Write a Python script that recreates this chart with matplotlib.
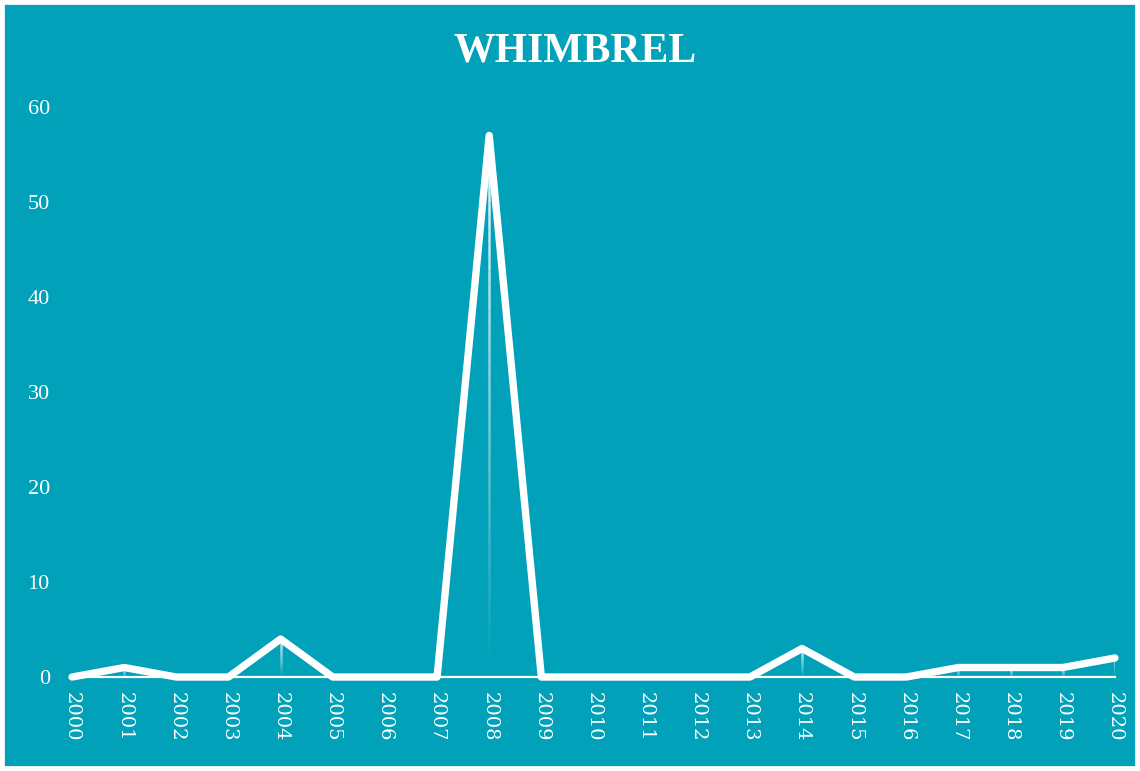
import numpy as np
import matplotlib.pyplot as plt
from matplotlib.collections import LineCollection
from matplotlib.patches import Rectangle

years = list(range(2000, 2021))
counts = [0, 1, 0, 0, 4, 0, 0, 0, 57, 0, 0, 0, 0, 0, 3, 0, 0, 1, 1, 1, 2]
yticks = [0, 10, 20, 30, 40, 50, 60]
title = "WHIMBREL"

bg = "#00a1b9"
serif = ["Liberation Serif", "DejaVu Serif"]

fig = plt.figure(figsize=(11.4, 7.71), dpi=100)
fig.patch.set_facecolor(bg)
ax = fig.add_axes([0.0632, 0.1219, 0.9148, 0.7394])
ax.set_facecolor(bg)

# baseline
ax.plot([years[0], years[-1]], [0, 0], color="white", lw=1.6, zorder=2, clip_on=False)

# faded drop lines from each point down to the baseline
for x, y in zip(years, counts):
    if y <= 0:
        continue
    n = 40
    ys = np.linspace(0, y, n + 1)
    segs = [[(x, ys[i]), (x, ys[i + 1])] for i in range(n)]
    alphas = np.linspace(0.0, 0.95, n)
    cols = [(1, 1, 1, a) for a in alphas]
    ax.add_collection(LineCollection(segs, colors=cols, linewidths=1.8, zorder=2))

ax.plot(years, counts, color="white", lw=5.3, solid_joinstyle="round",
        solid_capstyle="round", zorder=3, clip_on=False)

ax.set_xlim(years[0], years[-1])
ax.set_ylim(0, 60)
ax.set_xticks(years)
ax.set_xticklabels([str(y) for y in years], rotation=270, family=["DejaVu Serif"],
                   fontsize=14, color="white", va="top")
ax.set_yticks(yticks)
ax.set_yticklabels([str(t) for t in yticks], family=serif, fontsize=16, color="white")
ax.tick_params(axis="x", length=0, pad=11)
ax.tick_params(axis="y", length=0, pad=16)
for s in ax.spines.values():
    s.set_visible(False)

fig.text(0.504, 0.933, title, ha="center", va="center", color="white",
         fontsize=30, fontweight="bold", family=serif)

# white frame round the picture
fig.patches.append(Rectangle((0, 0), 1, 1, transform=fig.transFigure, fill=False,
                             edgecolor="white", linewidth=7))

fig.savefig("out.png", dpi=100, facecolor=bg)
